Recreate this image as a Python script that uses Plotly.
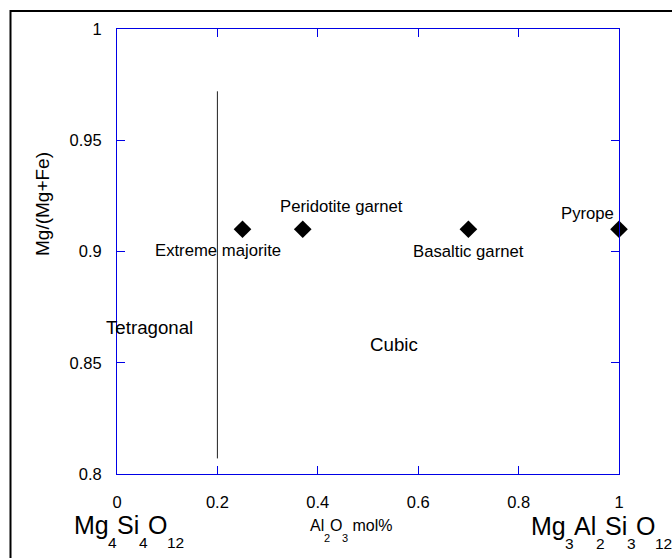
import plotly.graph_objects as go

# ---- data -------------------------------------------------------------
garnet_names = ["Extreme majorite", "Peridotite garnet", "Basaltic garnet", "Pyrope"]
al2o3_frac = [0.25, 0.37, 0.70, 1.0]
mg_number = [0.91, 0.91, 0.91, 0.91]

# tetragonal / cubic phase boundary
boundary_x = [0.2, 0.2]
boundary_y = [0.807, 0.972]

x_ticks = [0, 0.2, 0.4, 0.6, 0.8, 1.0]
x_ticklabels = ["0", "0.2", "0.4", "0.6", "0.8", "1"]
y_ticks = [0.8, 0.85, 0.9, 0.95, 1.0]
y_ticklabels = ["0.8", "0.85", "0.9", "0.95", "1"]

# ---- geometry / style -------------------------------------------------
W, H = 672, 558
L, R, T, B = 117, 53, 29, 84
PW, PH = W - L - R, H - T - B
FONT = "Liberation Sans, Arial, sans-serif"
AXIS_BLUE = "#0000e6"

# label offsets (px) relative to each point: (dx, dy), dy positive = down
label_offsets = [(-25, 21), (39, -23), (0, 22), (-32, -16)]

# Arial advance widths (em) for the glyphs used in formulas
ADV = {"M": .833, "g": .556, "S": .667, "i": .222, "O": .778, "A": .667,
       "l": .222, " ": .278, "m": .833, "o": .556, "%": .889}
for d in "0123456789":
    ADV[d] = .556


def text_w(s, size):
    return sum(ADV.get(c, .556) for c in s) * size


def px_annot(text, px, py, size, **kw):
    """Text whose left edge / vertical middle sit at page pixel (px, py)."""
    return dict(text=text, xref="paper", yref="paper", x=0, y=0,
                xanchor="left", yanchor="middle",
                xshift=px - L - 2, yshift=(H - B) - py,
                showarrow=False, font=dict(family=FONT, size=size, color="black"))


def formula(pieces, x0, y_main, y_sub, big, small):
    out, x = [], x0
    for s, is_sub in pieces:
        size = small if is_sub else big
        out.append(px_annot(s, x, y_sub if is_sub else y_main, size))
        x += text_w(s, size)
    return out


fig = go.Figure()

fig.add_trace(go.Scatter(
    x=boundary_x, y=boundary_y, mode="lines",
    line=dict(color="#202020", width=1), hoverinfo="skip", showlegend=False))

fig.add_trace(go.Scatter(
    x=al2o3_frac, y=mg_number, mode="markers",
    marker=dict(symbol="diamond", size=13.6, color="black", line=dict(width=0)),
    cliponaxis=False, showlegend=False, text=garnet_names))

annotations = []
for name, xv, yv, (dx, dy) in zip(garnet_names, al2o3_frac, mg_number, label_offsets):
    annotations.append(dict(text=name, x=xv, y=yv, xref="x", yref="y",
                            xshift=dx, yshift=-dy, showarrow=False,
                            font=dict(family=FONT, size=16.7, color="black")))

annotations.append(dict(text="Tetragonal", x=0.065, y=0.866, showarrow=False,
                        font=dict(family=FONT, size=18.7, color="black")))
annotations.append(dict(text="Cubic", x=0.552, y=0.8584, showarrow=False,
                        font=dict(family=FONT, size=18.7, color="black")))

# y axis title
annotations.append(dict(text="Mg/(Mg+Fe)", xref="paper", yref="paper",
                        x=(43 - L) / PW, y=(H - B - 204) / PH, textangle=-90,
                        showarrow=False, xanchor="center", yanchor="middle",
                        font=dict(family=FONT, size=19, color="black")))

# end-member formulas and axis quantity under the x axis
annotations += formula([("Mg", 0), ("4", 1), ("Si", 0), ("4", 1), ("O", 0), ("12", 1)],
                       73.7, 525, 542, 25, 15.5)
annotations += formula([("Al", 0), ("2", 1), ("O", 0), ("3", 1), (" mol%", 0)],
                       309.5, 525, 538, 16, 11)
annotations += formula([("Mg", 0), ("3", 1), ("Al", 0), ("2", 1), ("Si", 0), ("3", 1),
                        ("O", 0), ("12", 1)],
                       530.6, 526, 543, 25, 15.5)

axis_common = dict(showline=True, linecolor=AXIS_BLUE, linewidth=1, mirror="ticks",
                   ticks="inside", ticklen=8, tickwidth=1, tickcolor=AXIS_BLUE,
                   showgrid=False, zeroline=False,
                   tickfont=dict(family=FONT, size=16.5, color="black"))

fig.update_layout(
    width=W, height=H, margin=dict(l=L, r=R, t=T, b=B),
    paper_bgcolor="white", plot_bgcolor="white",
    xaxis=dict(range=[0, 1], tickvals=x_ticks, ticktext=x_ticklabels,
               ticklabelstandoff=13, **axis_common),
    yaxis=dict(range=[0.8, 1], tickvals=y_ticks, ticktext=y_ticklabels,
               ticklabelstandoff=11, **axis_common),
    annotations=annotations,
    shapes=[dict(type="rect", xref="paper", yref="paper",
                 x0=(10.5 - L) / PW, x1=1.3, y0=-0.4, y1=(H - B - 11) / PH,
                 line=dict(color="black", width=2), layer="above")],
    showlegend=False,
)

fig.write_html("out.html")
